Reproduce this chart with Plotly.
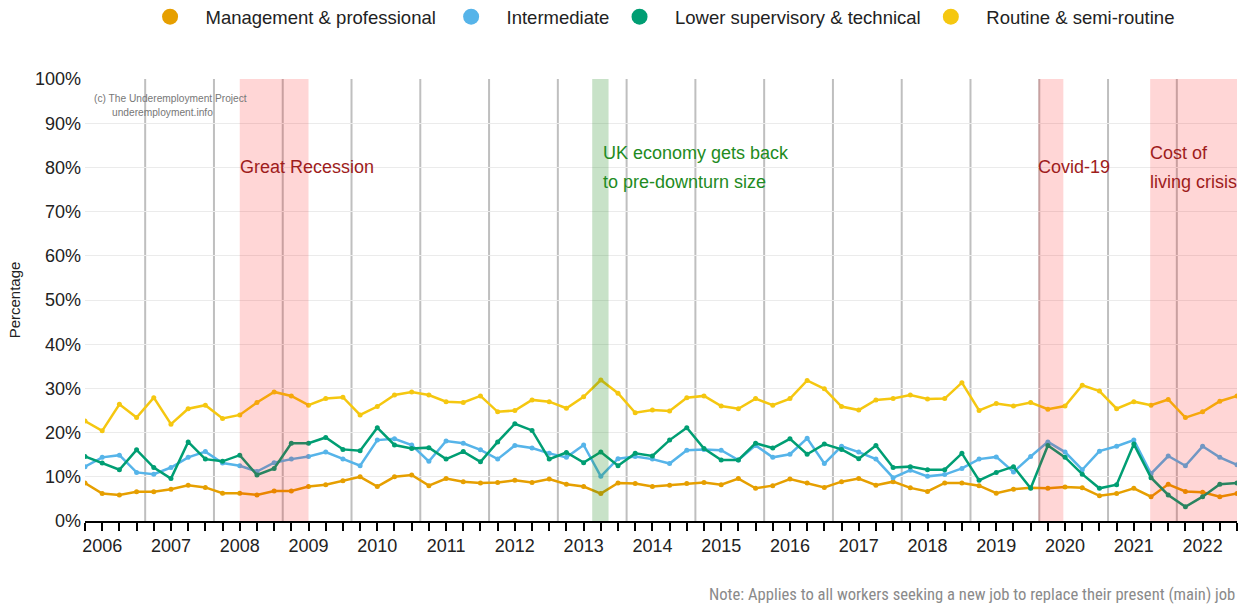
import plotly.graph_objects as go

# ---------------- data (quarterly, 2006 Q1 .. 2022 Q4) ----------------
years = list(range(2006, 2023))
quarters = [f"{y} Q{q}" for y in years for q in range(1, 5)]

management = [8.6, 6.2, 5.9, 6.6, 6.6, 7.2, 8.1, 7.6, 6.3, 6.3, 5.9, 6.8, 6.8, 7.8, 8.2, 9.1,
              10.0, 7.8, 10.0, 10.4, 8.0, 9.6, 8.9, 8.6, 8.7, 9.2, 8.7, 9.5, 8.3, 7.8, 6.2, 8.6,
              8.5, 7.8, 8.1, 8.5, 8.7, 8.2, 9.6, 7.4, 8.0, 9.5, 8.6, 7.6, 8.9, 9.6, 8.1, 8.9,
              7.5, 6.7, 8.6, 8.6, 8.0, 6.3, 7.2, 7.5, 7.4, 7.7, 7.5, 5.7, 6.2, 7.4, 5.5, 8.3,
              6.7, 6.5, 5.5, 6.2]
intermediate = [12.3, 14.4, 14.9, 11.0, 10.6, 12.1, 14.4, 15.7, 13.1, 12.5, 11.2, 13.2, 14.0, 14.6, 15.6, 14.0,
                12.5, 18.3, 18.6, 17.2, 13.5, 18.1, 17.6, 16.1, 14.0, 17.1, 16.5, 15.3, 14.4, 17.2, 10.1, 14.1,
                14.6, 14.0, 13.0, 16.0, 16.2, 16.0, 13.8, 17.1, 14.4, 15.1, 18.7, 13.0, 16.9, 15.6, 14.0, 9.8,
                11.5, 10.1, 10.5, 11.9, 14.0, 14.5, 11.1, 14.6, 17.9, 15.6, 11.6, 15.8, 16.9, 18.3, 10.7, 14.7,
                12.5, 16.9, 14.4, 12.7]
lower_supervisory = [14.6, 13.1, 11.6, 16.1, 12.1, 9.6, 17.9, 14.0, 13.5, 14.9, 10.4, 11.9, 17.6, 17.6, 18.9, 16.2,
                     15.9, 21.1, 17.2, 16.4, 16.6, 14.0, 15.7, 13.4, 17.9, 22.0, 20.5, 14.0, 15.5, 13.2, 15.6, 12.5,
                     15.3, 14.7, 18.3, 21.1, 16.4, 13.8, 13.8, 17.6, 16.5, 18.6, 15.1, 17.4, 16.2, 14.1, 17.1, 12.1,
                     12.3, 11.6, 11.6, 15.3, 9.2, 11.0, 12.3, 7.4, 17.1, 14.4, 10.6, 7.4, 8.2, 17.4, 9.8, 5.9,
                     3.2, 5.5, 8.3, 8.6]
routine = [22.6, 20.4, 26.4, 23.4, 27.9, 21.9, 25.4, 26.2, 23.2, 24.0, 26.8, 29.2, 28.3, 26.2, 27.7, 28.0,
           24.0, 25.9, 28.5, 29.2, 28.5, 27.0, 26.8, 28.3, 24.7, 25.0, 27.4, 27.0, 25.5, 28.1, 31.9, 28.9,
           24.5, 25.1, 24.9, 27.9, 28.3, 26.0, 25.4, 27.7, 26.2, 27.7, 31.8, 29.9, 25.9, 25.1, 27.4, 27.7,
           28.5, 27.6, 27.7, 31.3, 25.0, 26.6, 26.0, 26.8, 25.3, 26.0, 30.7, 29.4, 25.4, 27.0, 26.2, 27.5,
           23.4, 24.7, 27.1, 28.3]

series_names = ["Management & professional", "Intermediate",
                "Lower supervisory & technical", "Routine & semi-routine"]
series_values = [management, intermediate, lower_supervisory, routine]
series_colors = ["#E69F00", "#56B4E9", "#009E73", "#F5C710"]

y_ticks = list(range(0, 101, 10))
y_ticktext = [f"{v}%" for v in y_ticks]

# event bands (in quarter-index units) and labels
bands = [(9.0, 13.0, "rgba(255,0,0,0.16)"),
         (29.5, 30.45, "rgba(34,139,34,0.25)"),
         (55.45, 56.9, "rgba(255,0,0,0.16)"),
         (61.95, 67.0, "rgba(255,0,0,0.16)")]

FONT = "Liberation Sans, Arial, sans-serif"
RED = "#9E1C1C"
GREEN = "#228B22"
NB = "\u00a0"
legend_trailing = [2, 1, 1, 1]   # extra spacing after each legend label

xidx = list(range(len(quarters)))

fig = go.Figure()

for name, vals, col in zip(series_names, series_values, series_colors):
    fig.add_trace(go.Scatter(
        x=xidx, y=vals, mode="lines+markers", name=name,
        line=dict(color=col, width=2.5), marker=dict(color=col, size=5),
        showlegend=False, hovertext=quarters,
    ))

for name, col, tr in zip(series_names, series_colors, legend_trailing):
    fig.add_trace(go.Scatter(
        x=[None], y=[None], mode="markers", name=NB * 3 + name + NB * tr,
        marker=dict(color=col, size=22), showlegend=True,
    ))

shapes = []
# year separator lines
for k in range(len(years) - 1):
    xv = 3.5 + 4 * k
    shapes.append(dict(type="line", xref="x", yref="paper", x0=xv, x1=xv, y0=0, y1=1,
                       line=dict(color="#BFBFBF", width=2), layer="below"))
for x0, x1, c in bands:
    shapes.append(dict(type="rect", xref="x", yref="paper", x0=x0, x1=x1, y0=0, y1=1,
                       fillcolor=c, line=dict(width=0), layer="above"))

annotations = [
    dict(x=9.0, y=80, text="Great Recession", font=dict(color=RED, size=18)),
    dict(x=30.1, y=83.3, text="UK economy gets back", font=dict(color=GREEN, size=18)),
    dict(x=30.1, y=76.7, text="to pre-downturn size", font=dict(color=GREEN, size=18)),
    dict(x=55.45, y=80, text="Covid-19", font=dict(color=RED, size=18)),
    dict(x=61.95, y=83.3, text="Cost of", font=dict(color=RED, size=18)),
    dict(x=61.95, y=76.7, text="living crisis", font=dict(color=RED, size=18)),
]
for a in annotations:
    a.update(xref="x", yref="y", xanchor="left", yanchor="middle", showarrow=False, xshift=-2)
    a["font"]["family"] = FONT

annotations += [
    dict(xref="paper", yref="paper", x=0.006, y=0.957, text="(c) The Underemployment Project",
         xanchor="left", yanchor="middle", showarrow=False,
         font=dict(family=FONT, size=10.2, color="#777777")),
    dict(xref="paper", yref="paper", x=0.022, y=0.925, text="underemployment.info",
         xanchor="left", yanchor="middle", showarrow=False,
         font=dict(family=FONT, size=10.2, color="#777777")),
    dict(xref="paper", yref="paper", x=1.0, y=-0.167,
         text="Note: Applies to all workers seeking a new job to replace their present (main) job",
         xanchor="right", yanchor="middle", showarrow=False,
         font=dict(family="Liberation Sans Narrow, Roboto Condensed, Roboto, sans-serif", size=16.6, color="#8A8A8A")),
]

x_ticktext = [str(years[i // 4]) if i % 4 == 1 else "" for i in xidx]

fig.update_layout(
    width=1247, height=606,
    margin=dict(l=85, r=10, t=79, b=85, autoexpand=False),
    paper_bgcolor="white", plot_bgcolor="white",
    font=dict(family=FONT, color="#222222"),
    shapes=shapes, annotations=annotations,
    legend=dict(orientation="h", x=0.5057, xanchor="center", y=1.14, yanchor="middle",
                font=dict(size=18.5, color="#222222"), bgcolor="rgba(0,0,0,0)"),
    xaxis=dict(range=[0, 67], tickmode="array", tickvals=xidx, ticktext=x_ticktext,
               ticks="outside", ticklen=8, tickwidth=1.5, tickcolor="black",
               showline=True, linecolor="black", linewidth=1.5, showgrid=False, zeroline=False,
               tickfont=dict(size=18, color="#222222")),
    yaxis=dict(range=[0, 100], tickmode="array", tickvals=y_ticks, ticktext=y_ticktext,
               showgrid=True, gridcolor="#EBEBEB", gridwidth=1, zeroline=False, showline=False,
               ticks="", ticklabelstandoff=3, tickfont=dict(size=18, color="#222222"),
               title=dict(text="Percentage", font=dict(size=15, color="#222222"), standoff=10)),
)

# remove the default 8px page margin so the 1247x606 figure fills the window exactly
fig.write_html("out.html", config={"displayModeBar": False},
               post_script="document.body.style.margin='0';document.body.style.overflow='hidden';")
